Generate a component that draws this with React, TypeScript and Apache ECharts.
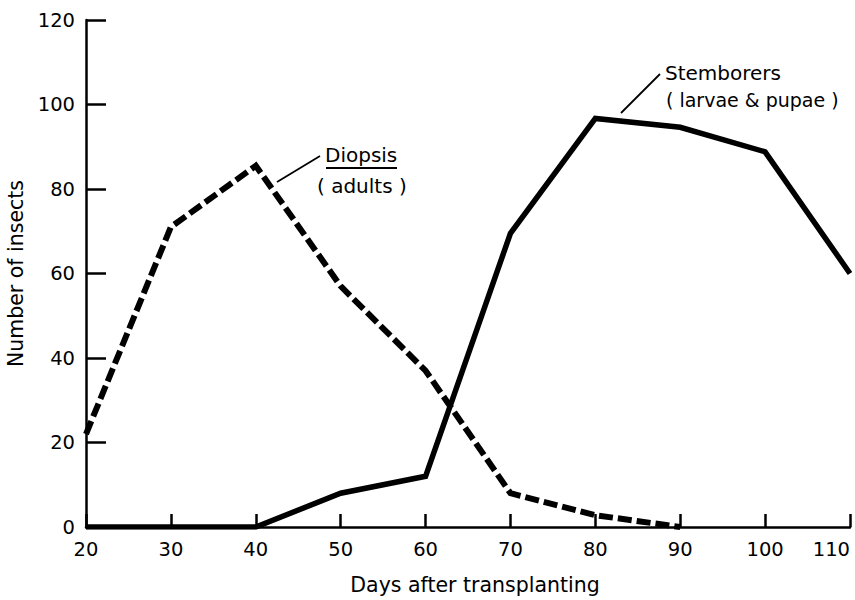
import React, { useEffect, useRef } from "react";
import * as echarts from "echarts";

const days = [20, 30, 40, 50, 60, 70, 80, 90, 100, 110];
const diopsisAdults = [22, 71, 85.5, 57, 37, 8, 2.8, 0];
const stemborers = [0, 0, 0, 8, 12, 69.5, 96.7, 94.6, 88.8, 60];
const yTicks = [0, 20, 40, 60, 80, 100, 120];

const FONT = "DejaVu Sans";

export default function App() {
  const ref = useRef<HTMLDivElement>(null);
  useEffect(() => {
    if (!ref.current) return;
    const chart = echarts.init(ref.current, null, { renderer: "svg" });
    const diopsisData = diopsisAdults.map((v, i) => [days[i], v]);
    const stemData = stemborers.map((v, i) => [days[i], v]);
    chart.setOption({
      animation: false,
      backgroundColor: "#ffffff",
      grid: { left: 86, right: 5, top: 20, bottom: 73, containLabel: false, outerBoundsMode: "none" },
      xAxis: {
        type: "value",
        min: days[0],
        max: days[days.length - 1],
        interval: 10,
        name: "Days after transplanting",
        nameLocation: "middle",
        nameGap: 47,
        nameTextStyle: { fontFamily: FONT, fontSize: 20.5, color: "#000", padding: [0, 0, 0, 14] },
        axisLine: { show: true, onZero: false, lineStyle: { color: "#000", width: 2.5 } },
        axisTick: { show: true, inside: true, length: 13, lineStyle: { color: "#000", width: 2.5 } },
        axisLabel: {
          fontFamily: FONT,
          fontSize: 19.5,
          color: "#000",
          margin: 12,
          alignMaxLabel: "right",
        },
        splitLine: { show: false },
      },
      yAxis: {
        type: "value",
        min: yTicks[0],
        max: yTicks[yTicks.length - 1],
        interval: 20,
        name: "Number of insects",
        nameLocation: "middle",
        nameGap: 58,
        nameTextStyle: { fontFamily: FONT, fontSize: 20.5, color: "#000" },
        axisLine: { show: true, onZero: false, lineStyle: { color: "#000", width: 2.5 } },
        axisTick: { show: true, inside: true, length: 20, lineStyle: { color: "#000", width: 2.5 } },
        axisLabel: { fontFamily: FONT, fontSize: 19.5, color: "#000", margin: 11 },
        splitLine: { show: false },
      },
      series: [
        {
          name: "Diopsis (adults)",
          type: "line",
          data: diopsisData,
          showSymbol: false,
          symbol: "none",
          lineStyle: { color: "#000", width: 6, type: [14, 5], join: "miter" },
        },
        {
          name: "Stemborers (larvae & pupae)",
          type: "line",
          data: stemData,
          showSymbol: false,
          symbol: "none",
          lineStyle: { color: "#000", width: 5.5, join: "miter" },
        },
      ],
      graphic: [
        { type: "line", shape: { x1: 277, y1: 182, x2: 320, y2: 156 }, style: { stroke: "#000", lineWidth: 1.8 } },
        { type: "text", x: 325, y: 155, style: { text: "Diopsis", fontFamily: FONT, fontSize: 20, fill: "#000", verticalAlign: "middle" } },
        { type: "line", shape: { x1: 326, y1: 168, x2: 397, y2: 168 }, style: { stroke: "#000", lineWidth: 1.8 } },
        { type: "text", x: 317, y: 186, style: { text: "( adults )", fontFamily: FONT, fontSize: 20, fill: "#000", verticalAlign: "middle" } },
        { type: "line", shape: { x1: 621, y1: 113, x2: 660, y2: 74 }, style: { stroke: "#000", lineWidth: 1.8 } },
        { type: "text", x: 665, y: 73, style: { text: "Stemborers", fontFamily: FONT, fontSize: 20, fill: "#000", verticalAlign: "middle" } },
        { type: "text", x: 666, y: 100, style: { text: "( larvae & pupae )", fontFamily: FONT, fontSize: 19, fill: "#000", verticalAlign: "middle" } },
      ],
    });
    return () => chart.dispose();
  }, []);
  return (
    <div
      ref={ref}
      style={{ position: "fixed", left: 0, top: 0, width: 855, height: 600, background: "#fff" }}
    />
  );
}
